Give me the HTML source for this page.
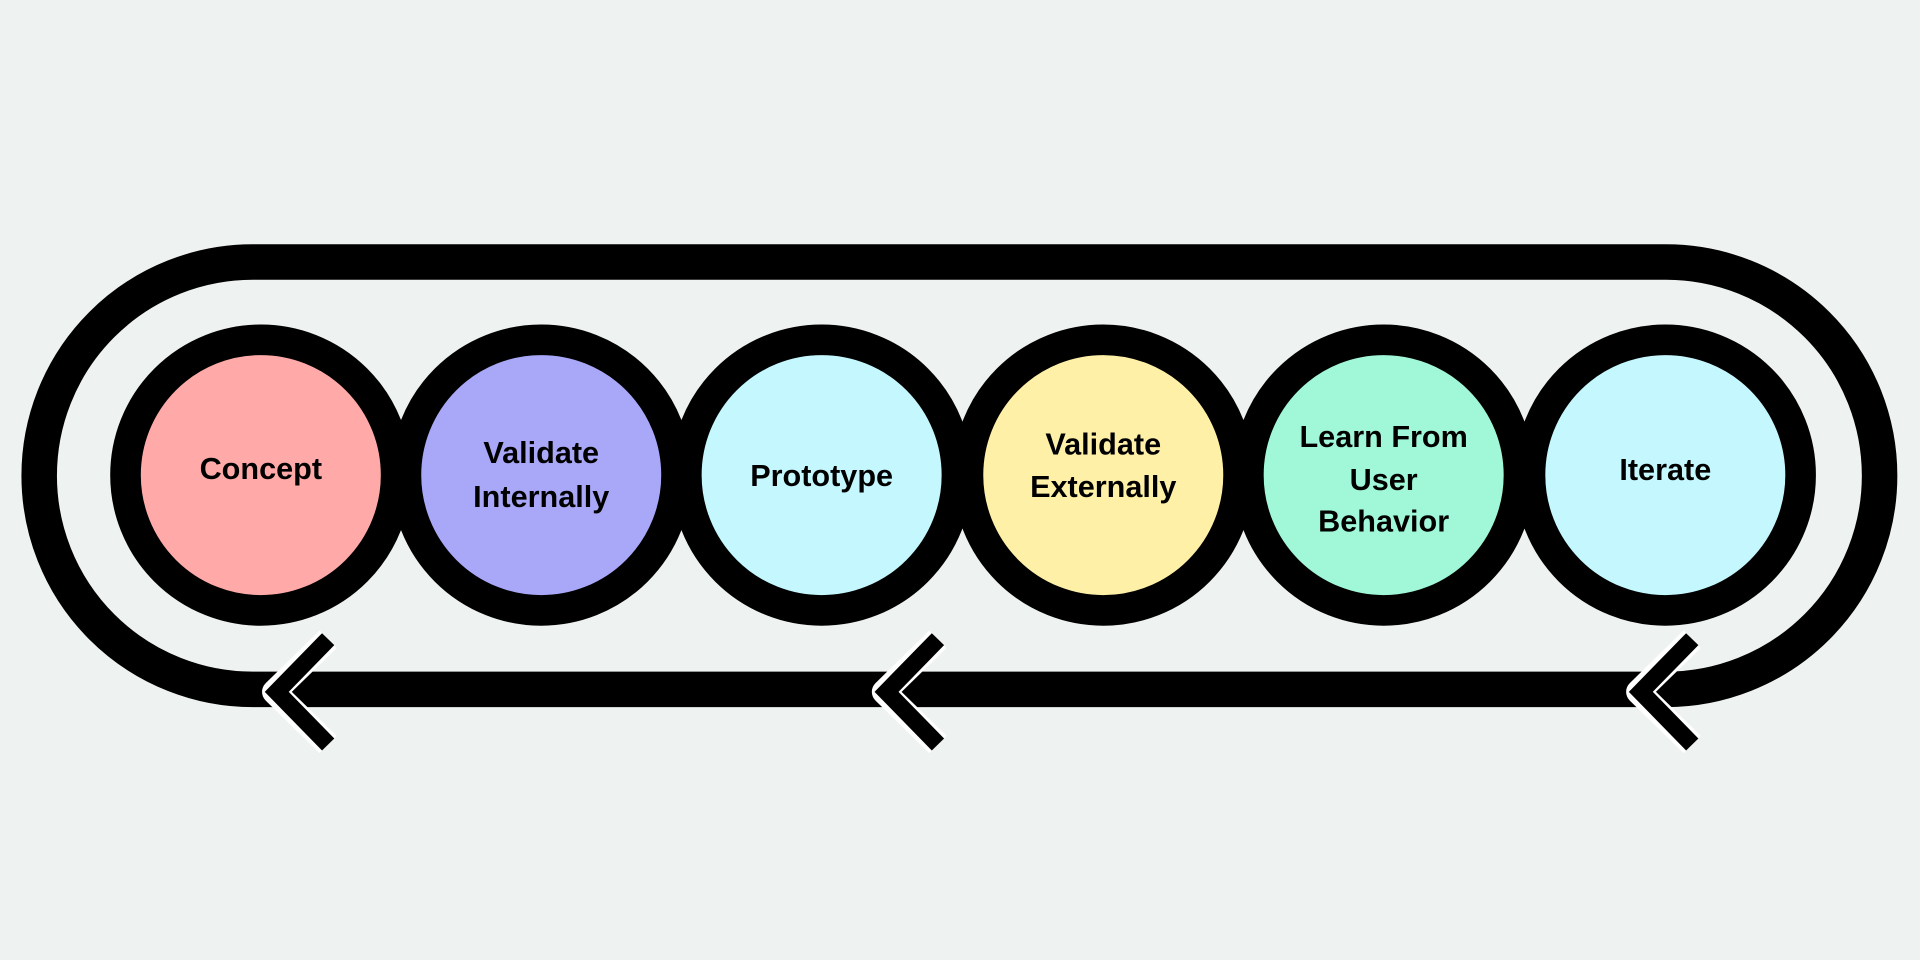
<!DOCTYPE html>
<html><head><meta charset="utf-8"><style>
html,body{margin:0;padding:0;background:#eef2f0;}
svg{display:block}
text{font-family:"Liberation Sans",sans-serif;font-weight:bold;font-size:25px;fill:#000;text-anchor:middle;}
</style></head><body>
<svg width="1920" height="960" viewBox="0 0 1568 784" xmlns="http://www.w3.org/2000/svg">
<rect width="1568" height="784" fill="#eef2f0"/>
<path d="M206.5 214 H1360.5 A174.5 174.5 0 0 1 1360.5 563 H206.5 A174.5 174.5 0 0 1 206.5 214 Z" fill="none" stroke="#000" stroke-width="29"/>
<g stroke="#000" stroke-width="25">
<circle cx="213" cy="388" r="110.5" fill="#ffaaa8"/>
<circle cx="442" cy="388" r="110.5" fill="#a9a8f8"/>
<circle cx="671" cy="388" r="110.5" fill="#c4f8fe"/>
<circle cx="901" cy="388" r="110.5" fill="#fff0a8"/>
<circle cx="1130" cy="388" r="110.5" fill="#a0f8d8"/>
<circle cx="1360" cy="388" r="110.5" fill="#c4f8fe"/>
</g>
<g fill="none" stroke-linejoin="round">
<g stroke="#fff" stroke-width="20">
<polyline points="268,522 224,565 268,608"/>
<polyline points="766,522 722,565 766,608"/>
<polyline points="1382,522 1338,565 1382,608"/>
</g>
<g stroke="#000" stroke-width="14" stroke-linejoin="miter">
<polyline points="268,522 226,565 268,608"/>
<polyline points="766,522 724,565 766,608"/>
<polyline points="1382,522 1340,565 1382,608"/>
</g>
</g>
<text x="213" y="391">Concept</text>
<text x="442" y="378">Validate</text>
<text x="442" y="414">Internally</text>
<text x="671" y="397">Prototype</text>
<text x="901" y="371">Validate</text>
<text x="901" y="406">Externally</text>
<text x="1130" y="365">Learn From</text>
<text x="1130" y="400">User</text>
<text x="1130" y="434">Behavior</text>
<text x="1360" y="392">Iterate</text>
</svg>
</body></html>
